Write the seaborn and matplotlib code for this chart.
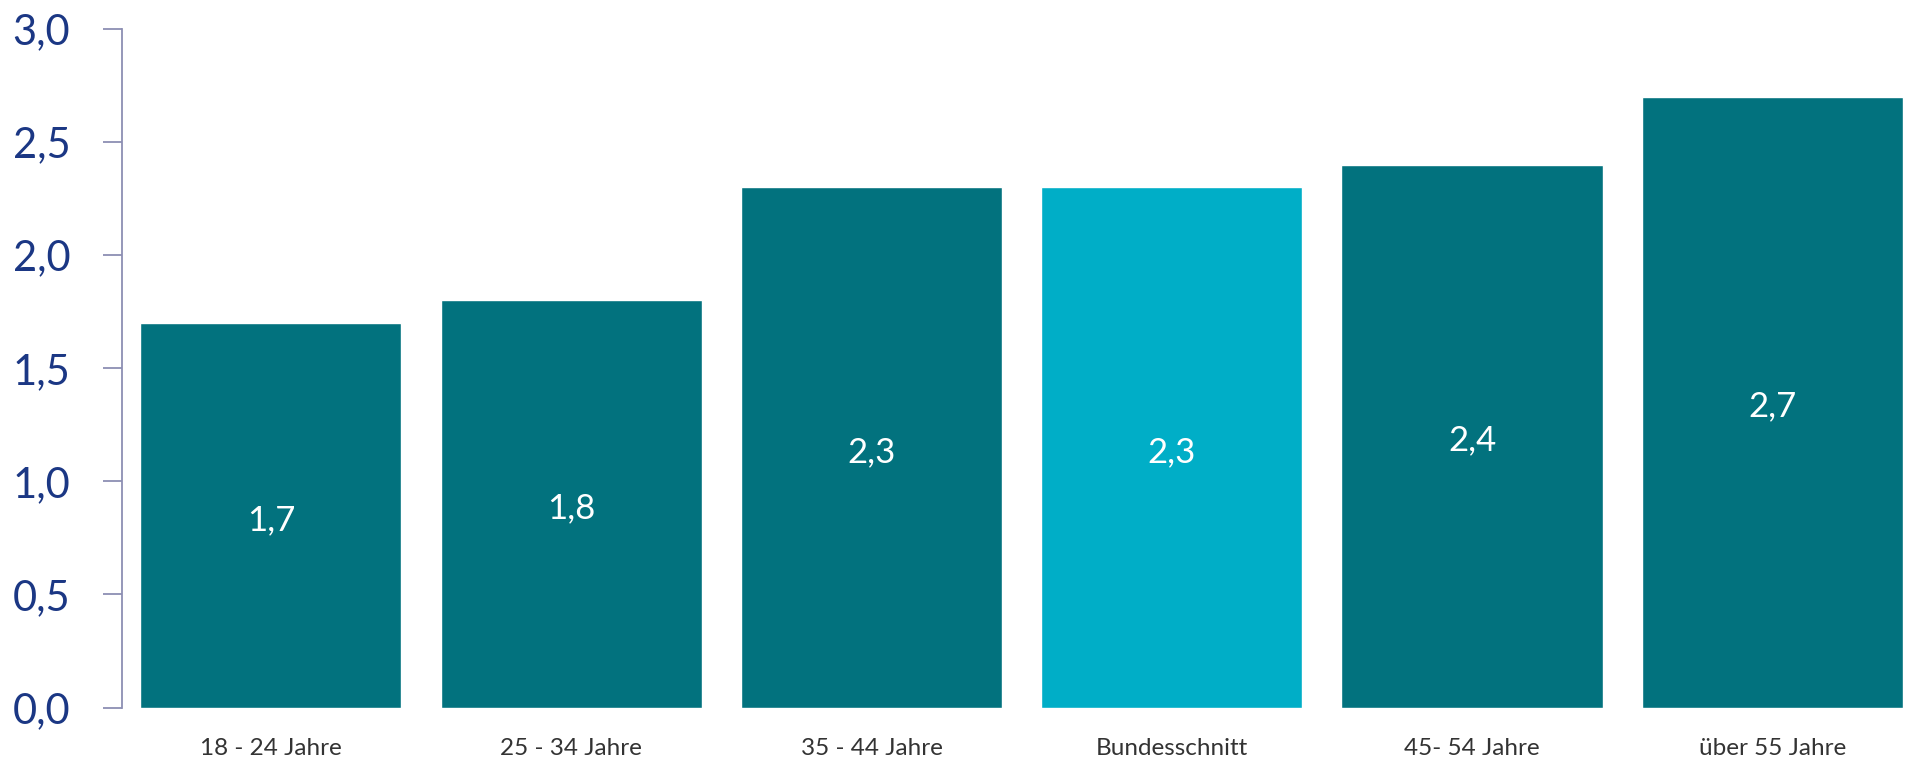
import matplotlib
matplotlib.use("Agg")
import matplotlib.pyplot as plt
import seaborn as sns
import pandas as pd

categories = ["18 - 24 Jahre", "25 - 34 Jahre", "35 - 44 Jahre", "Bundesschnitt", "45- 54 Jahre", "über 55 Jahre"]
values = [1.7, 1.8, 2.3, 2.3, 2.4, 2.7]
groups = ["Alter", "Alter", "Alter", "Bund", "Alter", "Alter"]
value_labels = ["1,7", "1,8", "2,3", "2,3", "2,4", "2,7"]
y_ticks = [0.0, 0.5, 1.0, 1.5, 2.0, 2.5, 3.0]
y_tick_labels = ["0,0", "0,5", "1,0", "1,5", "2,0", "2,5", "3,0"]

sns.set_theme(style="white")
plt.rcParams["font.family"] = ["Lato", "DejaVu Sans"]

df = pd.DataFrame({"cat": categories, "val": values, "grp": groups})
W, H = 1906, 757
fig = plt.figure(figsize=(W / 100, H / 100), dpi=100)
left, right, top, bottom = 121.6, 1906, 29, 707.5
ax = fig.add_axes([left / W, 1 - bottom / H, (right - left) / W, (bottom - top) / H])

sns.barplot(data=df, x="cat", y="val", hue="grp", dodge=False, width=0.87,
            palette={"Alter": "#02727E", "Bund": "#00AEC7"}, legend=False,
            saturation=1, ax=ax)

for i, (v, lab) in enumerate(zip(values, value_labels)):
    ax.text(i, v / 2 - 0.02, lab, ha="center", va="center", color="white", fontsize=25)

ax.set_xlim(-0.497, 5.445)
ax.set_ylim(0, 3.0)
ax.set_yticks(y_ticks)
ax.set_yticklabels(y_tick_labels, fontsize=30, color="#1B3784")
ax.set_xlabel("")
ax.set_ylabel("")
ax.tick_params(axis="x", length=0, labelsize=17.5, labelcolor="#333333", pad=22)
ax.tick_params(axis="y", left=True, length=14, width=1.3, color="#8C8FB3", pad=23)
for s in ["top", "right", "bottom"]:
    ax.spines[s].set_visible(False)
ax.spines["left"].set_color("#8C8FB3")
ax.spines["left"].set_linewidth(1.3)
ax.grid(False)

fig.savefig("out.png", dpi=100)
